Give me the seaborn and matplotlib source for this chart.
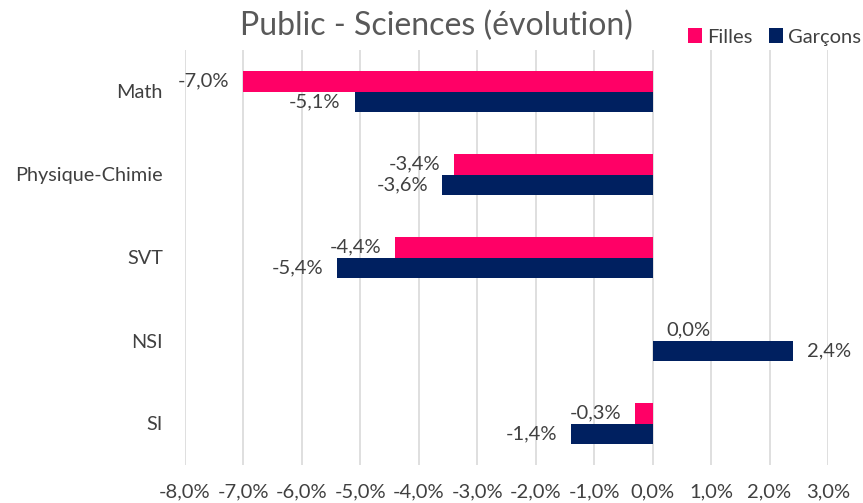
import matplotlib
matplotlib.use("Agg")
import matplotlib.pyplot as plt
import seaborn as sns
import pandas as pd
from matplotlib.ticker import FuncFormatter

categories = ["Math", "Physique-Chimie", "SVT", "NSI", "SI"]
filles = [-7.0, -3.4, -4.4, 0.0, -0.3]
garcons = [-5.1, -3.6, -5.4, 2.4, -1.4]
series = ["Filles", "Garçons"]
colors = {"Filles": "#FF0066", "Garçons": "#002060"}
xticks = [-8, -7, -6, -5, -4, -3, -2, -1, 0, 1, 2, 3]

df = pd.DataFrame({
    "cat": categories * 2,
    "val": filles + garcons,
    "serie": [series[0]] * len(categories) + [series[1]] * len(categories),
})

sns.set_theme(style="white")
plt.rcParams["font.family"] = ["Lato", "DejaVu Sans"]
TXT = "#404040"
FS = 14.5

fig = plt.figure(figsize=(8.63, 5.03), dpi=100)
ax = fig.add_axes([185 / 863, 1 - 465 / 503, (828 - 185) / 863, (465 - 50) / 503])

sns.barplot(data=df, y="cat", x="val", hue="serie", hue_order=series,
            order=categories, palette=colors, orient="h", width=0.5,
            gap=0, saturation=1, ax=ax, legend=True, edgecolor="none")

ax.set_xlim(-8, 3)
ax.set_xticks(xticks)
ax.xaxis.set_major_formatter(FuncFormatter(lambda v, p: f"{v:.1f}%".replace(".", ",")))
ax.grid(axis="x", color="#D9D9D9", linewidth=1.2)
ax.set_axisbelow(True)
for s in ax.spines.values():
    s.set_visible(False)
ax.set_xlabel("")
ax.set_ylabel("")
ax.tick_params(axis="x", length=0, pad=13, labelsize=FS, labelcolor=TXT)
ax.tick_params(axis="y", length=0, pad=16, labelsize=14.3, labelcolor=TXT)

for cont, vals in zip(ax.containers, [filles, garcons]):
    for patch, v in zip(cont.patches, vals):
        yc = patch.get_y() + patch.get_height() / 2
        lab = f"{v:.1f}%".replace(".", ",")
        if v < 0:
            ax.annotate(lab, (v, yc), xytext=(-10, 0), textcoords="offset points",
                        ha="right", va="center", fontsize=FS, color=TXT)
        else:
            ax.annotate(lab, (v, yc), xytext=(10, 0), textcoords="offset points",
                        ha="left", va="center", fontsize=FS, color=TXT)

leg = ax.legend(loc="center right", bbox_to_anchor=(1.064, 1 + 13 / 415), ncol=2, frameon=False,
                fontsize=FS, handlelength=0.7, handleheight=0.7, handletextpad=0.25,
                columnspacing=0.8, borderaxespad=0.0)
for t in leg.get_texts():
    t.set_color(TXT)

fig.text(436 / 863, 1 - 26 / 503, "Public - Sciences (évolution)", ha="center",
         va="center", fontsize=23, color="#595959")

fig.savefig("out.png", dpi=100)
